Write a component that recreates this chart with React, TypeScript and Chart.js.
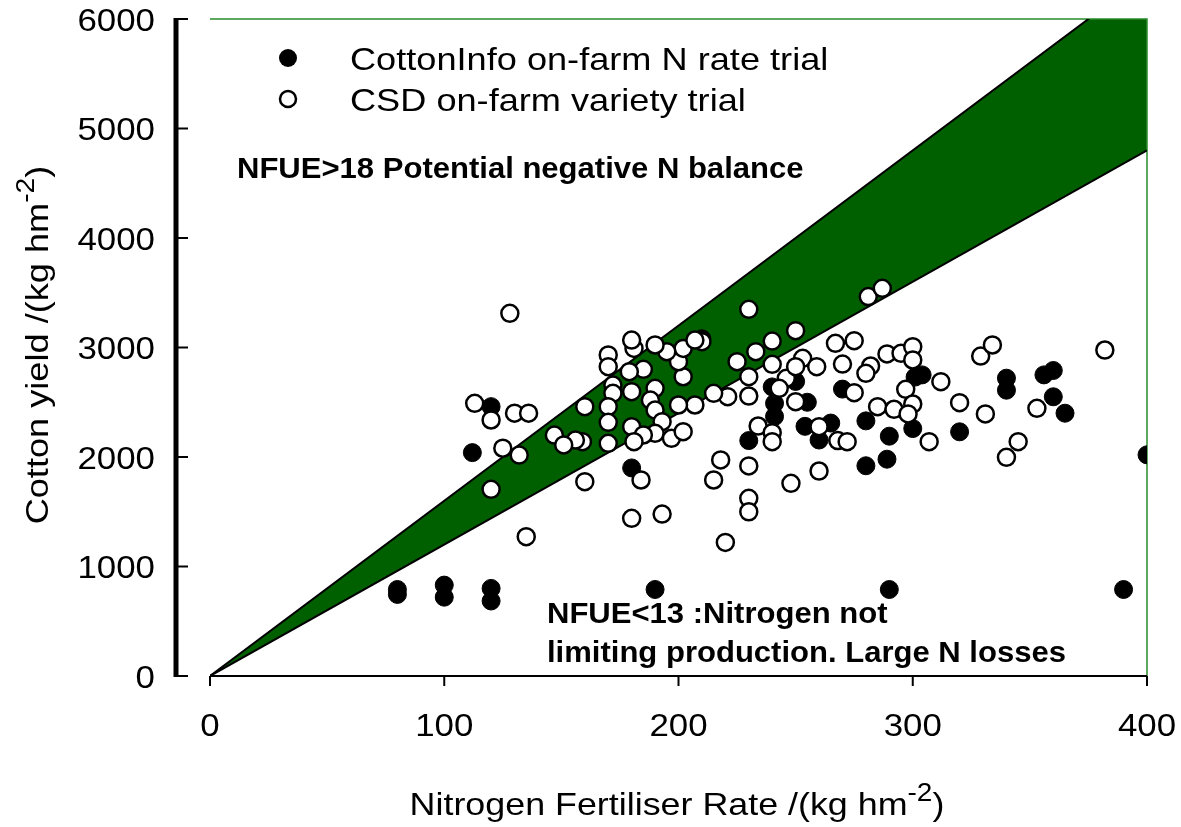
import React, { useEffect, useRef } from "react";
import { Chart, registerables } from "chart.js";

Chart.register(...registerables);

// ---------- DATA ----------
const xTickValues = [0, 100, 200, 300, 400];
const yTickValues = [0, 1000, 2000, 3000, 4000, 5000, 6000];

const legendLabels = ["CottonInfo on-farm N rate trial", "CSD on-farm variety trial"];

// CottonInfo on-farm N rate trial (filled circles)
const cottonInfoX = [80, 80, 100, 100, 120, 120, 190, 290, 390, 400, 112, 120, 180, 210, 230, 240, 241, 241, 250, 255, 254, 260, 265, 270, 280, 280, 290, 289, 300, 301, 304, 320, 340, 340, 356, 360, 360, 365];
const cottonInfoY = [790, 745, 830, 720, 800, 685, 790, 790, 790, 2020, 2040, 2460, 1900, 3080, 2150, 2640, 2490, 2370, 2690, 2500, 2280, 2155, 2310, 2620, 2330, 1920, 2190, 1980, 2260, 2730, 2750, 2230, 2720, 2610, 2750, 2790, 2550, 2400];

// CSD on-farm variety trial (open circles)
const csdX = [128, 113, 120, 130, 136, 125, 132, 120, 135, 147,
  230, 240, 233, 225, 240, 246, 230, 230, 243, 221, 215, 207, 200, 202, 200, 202, 210, 207, 195, 190, 181, 180, 170, 170, 185, 179, 180, 190, 172, 172, 160, 170, 188, 190, 170, 180, 193, 190, 185, 181, 170, 197, 202, 159, 156, 151, 234, 240, 240, 184, 160, 218, 215, 230, 230, 230, 180, 193, 220, 248,
  281, 287, 250, 267, 275, 253, 250, 259, 250, 270, 289, 295, 300, 300, 282, 280, 275, 297, 312, 300, 285, 292, 298, 320, 331, 329, 334, 345, 340, 307, 260, 268, 272, 260, 382, 353];
const csdY = [3312, 2490, 2338, 2400, 2400, 2080, 2018, 1705, 1272, 2200,
  3349, 3059, 2962, 2871, 2846, 2719, 2734, 2557, 2627, 2551, 2582, 2475, 2475, 2733, 2870, 2992, 3053, 3068, 2962, 3023, 2992, 3068, 2932, 2825, 2801, 2779, 2597, 2627, 2657, 2582, 2460, 2460, 2520, 2429, 2317, 2277, 2323, 2216, 2201, 2140, 2125, 2171, 2231, 2140, 2155, 2110, 2283, 2222, 2140, 1790, 1775, 1973, 1790, 1918, 1623, 1500, 1440, 1479, 1220, 1760,
  3465, 3540, 3154, 3038, 3062, 2901, 2825, 2825, 2505, 2849, 2941, 2947, 3007, 2886, 2831, 2764, 2587, 2618, 2688, 2484, 2460, 2436, 2393, 2496, 2393, 2922, 3023, 2140, 1997, 2140, 2277, 2150, 2140, 1872, 2977, 2445];

// NFUE band edges (yield = NFUE * N rate)
const bandX = [0, 400];
const bandUpperY = [0, 6400]; // NFUE 16
const bandLowerY = [0, 4800]; // NFUE 12

const annotationTop = "NFUE>18 Potential negative N balance";
const annotationBottom = ["NFUE<13 :Nitrogen not", "limiting production. Large N losses"];
const xTitle = ["Nitrogen Fertiliser Rate /(kg hm", "-2", ")"];
const yTitle = ["Cotton yield /(kg hm", "-2", ")"];

// ---------- helpers ----------
const FONT = '"Liberation Sans", Arial, Helvetica, sans-serif';

function drawStretched(ctx: CanvasRenderingContext2D, s: string, x: number, y: number, font: string, sx: number) {
  ctx.save();
  ctx.font = font;
  ctx.textAlign = "left";
  ctx.textBaseline = "alphabetic";
  ctx.translate(x, y);
  ctx.scale(sx, 1);
  ctx.fillText(s, 0, 0);
  ctx.restore();
}
function measure(ctx: CanvasRenderingContext2D, s: string, font: string, sx: number) {
  ctx.save();
  ctx.font = font;
  const w = ctx.measureText(s).width * sx;
  ctx.restore();
  return w;
}
// title with superscript, centered at (0,0) local, baseline 0
function drawTitle(ctx: CanvasRenderingContext2D, parts: string[], size: number, sx: number) {
  const f = `${size}px ${FONT}`;
  const fs = `${Math.round(size * 0.78)}px ${FONT}`;
  const w0 = measure(ctx, parts[0], f, sx);
  const w1 = measure(ctx, parts[1], fs, sx);
  const w2 = measure(ctx, parts[2], f, sx);
  const total = w0 + w1 + w2;
  let x = -total / 2;
  drawStretched(ctx, parts[0], x, 0, f, sx);
  x += w0;
  drawStretched(ctx, parts[1], x, -size * 0.45, fs, sx);
  x += w1;
  drawStretched(ctx, parts[2], x, 0, f, sx);
}

const decorPlugin = {
  id: "decor",
  beforeDatasetsDraw(chart: any) {
    const ctx: CanvasRenderingContext2D = chart.ctx;
    const a = chart.chartArea;
    ctx.save();
    ctx.strokeStyle = "#2a8a2a";
    ctx.lineWidth = 1.5;
    ctx.beginPath();
    ctx.moveTo(a.left, a.top);
    ctx.lineTo(a.right, a.top);
    ctx.lineTo(a.right, a.bottom);
    ctx.stroke();
    ctx.restore();
  },
  afterDatasetsDraw(chart: any) {
    const ctx: CanvasRenderingContext2D = chart.ctx;
    const a = chart.chartArea;
    const xs = chart.scales.x;
    const ys = chart.scales.y;
    ctx.save();
    ctx.fillStyle = "#000";
    ctx.strokeStyle = "#000";
    // offset y axis
    const yAxisX = 176;
    ctx.lineWidth = 5;
    ctx.beginPath();
    ctx.moveTo(yAxisX, ys.getPixelForValue(6000) - 1);
    ctx.lineTo(yAxisX, ys.getPixelForValue(0) + 1);
    ctx.stroke();
    ctx.lineWidth = 2;
    yTickValues.forEach((v) => {
      const py = ys.getPixelForValue(v);
      ctx.beginPath();
      ctx.moveTo(yAxisX, py);
      ctx.lineTo(yAxisX + 12, py);
      ctx.stroke();
    });
    // x axis
    ctx.lineWidth = 2;
    ctx.beginPath();
    ctx.moveTo(a.left, a.bottom);
    ctx.lineTo(a.right, a.bottom);
    ctx.stroke();
    xTickValues.forEach((v) => {
      const px = xs.getPixelForValue(v);
      ctx.beginPath();
      ctx.moveTo(px, a.bottom);
      ctx.lineTo(px, a.bottom + 10);
      ctx.stroke();
    });
    // tick labels
    const tickFont = `32px ${FONT}`;
    const sxT = 1.09;
    yTickValues.forEach((v) => {
      const s = String(v);
      const w = measure(ctx, s, tickFont, sxT);
      drawStretched(ctx, s, 155 - w, ys.getPixelForValue(v) + 11.5, tickFont, sxT);
    });
    xTickValues.forEach((v) => {
      const s = String(v);
      const w = measure(ctx, s, tickFont, sxT);
      drawStretched(ctx, s, xs.getPixelForValue(v) - w / 2, 736, tickFont, sxT);
    });
    // axis titles
    ctx.save();
    ctx.translate(677, 815);
    drawTitle(ctx, xTitle, 32, 1.12);
    ctx.restore();
    ctx.save();
    ctx.translate(48, 345);
    ctx.rotate(-Math.PI / 2);
    drawTitle(ctx, yTitle, 32, 1.13);
    ctx.restore();
    // legend
    const legFont = `32px ${FONT}`;
    ctx.beginPath();
    ctx.arc(288, 58, 9, 0, Math.PI * 2);
    ctx.fillStyle = "#000";
    ctx.fill();
    ctx.beginPath();
    ctx.arc(288, 99, 8, 0, Math.PI * 2);
    ctx.fillStyle = "#fff";
    ctx.fill();
    ctx.lineWidth = 2.5;
    ctx.stroke();
    ctx.fillStyle = "#000";
    drawStretched(ctx, legendLabels[0], 350, 69.5, legFont, 1.13);
    drawStretched(ctx, legendLabels[1], 350, 110.5, legFont, 1.13);
    // annotations
    const bold = `bold 29px ${FONT}`;
    drawStretched(ctx, annotationTop, 237, 178, bold, 1.07);
    drawStretched(ctx, annotationBottom[0], 547, 623, bold, 1.07);
    drawStretched(ctx, annotationBottom[1], 547, 662, bold, 1.07);
    ctx.restore();
  },
};

export default function App() {
  const ref = useRef<HTMLCanvasElement | null>(null);
  useEffect(() => {
    if (!ref.current) return;
    const chart = new Chart(ref.current, {
      type: "scatter",
      data: {
        datasets: [
          {
            label: legendLabels[1],
            data: csdX.map((x, i) => ({ x, y: csdY[i] })),
            backgroundColor: "#ffffff",
            borderColor: "#000000",
            borderWidth: 2.5,
            pointRadius: 8.5,
          },
          {
            label: legendLabels[0],
            data: cottonInfoX.map((x, i) => ({ x, y: cottonInfoY[i] })),
            backgroundColor: "#000000",
            borderColor: "#000000",
            borderWidth: 1,
            pointRadius: 9,
          },
          {
            type: "line",
            label: "upper",
            data: bandX.map((x, i) => ({ x, y: bandUpperY[i] })),
            borderColor: "#000000",
            borderWidth: 2,
            backgroundColor: "#006000",
            pointRadius: 0,
            fill: "+1",
            tension: 0,
          },
          {
            type: "line",
            label: "lower",
            data: bandX.map((x, i) => ({ x, y: bandLowerY[i] })),
            borderColor: "#000000",
            borderWidth: 2,
            pointRadius: 0,
            fill: false,
            tension: 0,
          },
        ] as any,
      },
      options: {
        animation: false,
        responsive: false,
        layout: { padding: { left: 210, right: 34, top: 19, bottom: 151 } },
        scales: {
          x: { type: "linear", min: 0, max: 400, display: false },
          y: { type: "linear", min: 0, max: 6000, display: false },
        },
        plugins: {
          legend: { display: false },
          tooltip: { enabled: false },
          filler: { drawTime: "beforeDatasetsDraw" },
        } as any,
      },
      plugins: [decorPlugin],
    });
    return () => chart.destroy();
  }, []);
  return (
    <div style={{ position: "absolute", left: 0, top: 0, width: 1181, height: 827, background: "#fff" }}>
      <canvas ref={ref} width={1181} height={827} style={{ display: "block" }} />
    </div>
  );
}
